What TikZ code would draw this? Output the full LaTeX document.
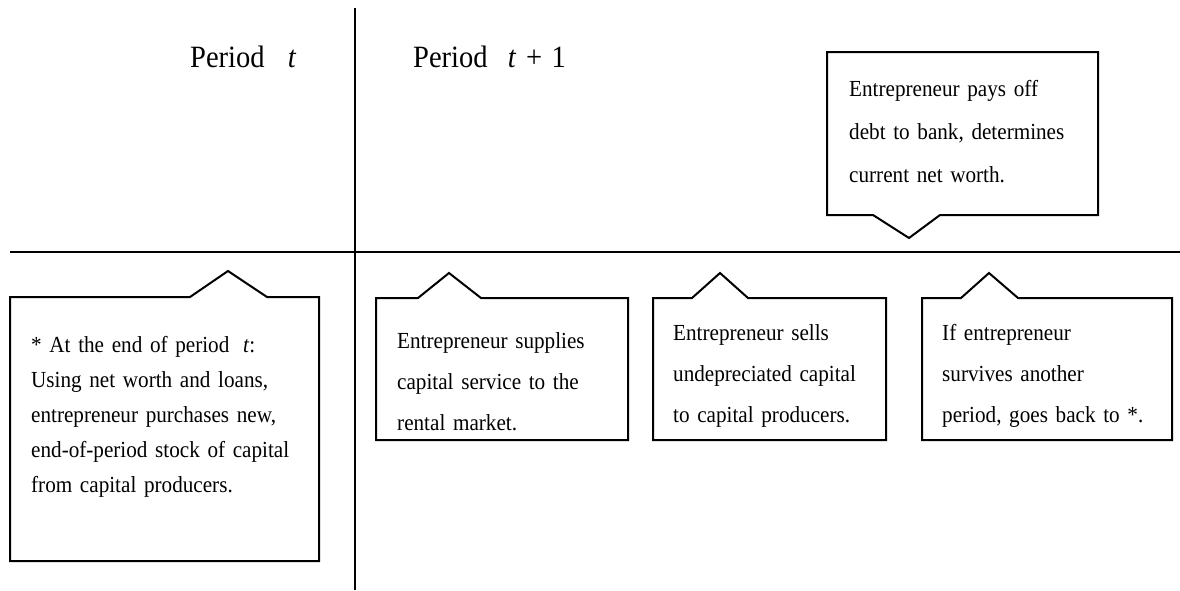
\documentclass[tikz,border=0pt]{standalone}
\usepackage{fontspec}
\setmainfont[FakeStretch=0.92]{Liberation Serif}
\begin{document}
\begin{tikzpicture}[x=1pt,y=-1pt]
\tikzset{
  outline/.style={draw=black, line width=2pt, line join=miter},
  axisline/.style={draw=black, line width=2.2pt},
  boxtext/.style={anchor=base west, inner sep=0pt, align=left, text width=#1},
  boxtext/.default=260pt,
  head/.style={anchor=base west, inner sep=0pt, font=\fontsize{31}{35}\selectfont},
}
\useasboundingbox (0,0) rectangle (1180,590);
% axes
\coordinate (vtop) at (355,8);
\coordinate (vbot) at (355,590);
\coordinate (hl) at (10,252);
\coordinate (hr) at (1180,252);
\draw[axisline] (vtop) -- (vbot);
\draw[axisline] (hl) -- (hr);
% headings
\node[head] (pt) at (190,67) {Period\hspace{0.75em}\textit{t}};
\node[head] (pt1) at (413,67) {Period\hspace{0.65em}\textit{t}\hspace{0.32em}+\hspace{0.3em}1};
% callout boxes
\draw[outline] (10,297) -- (190,297) -- (228,271) -- (267,297) -- (319,297) -- (319,561) -- (10,561) -- cycle;
\draw[outline] (376,298) -- (418,298) -- (449,273) -- (481,298) -- (628,298) -- (628,440) -- (376,440) -- cycle;
\draw[outline] (653,298) -- (692,298) -- (720,273) -- (748,298) -- (886,298) -- (886,440) -- (653,440) -- cycle;
\draw[outline] (922,298) -- (961,298) -- (989,273) -- (1018,298) -- (1172,298) -- (1172,440) -- (922,440) -- cycle;
\draw[outline] (827,52) -- (1098,52) -- (1098,215) -- (940,215) -- (909,238) -- (873,215) -- (827,215) -- cycle;
% texts
\node[boxtext=285pt, font=\fontsize{23}{35}\selectfont] (t1) at (31,352)
  {* At the end of period\hspace{0.6em}\textit{t}:\\
   Using net worth and loans,\\
   entrepreneur purchases new,\\
   end-of-period stock of capital\\
   from capital producers.};
\node[boxtext=230pt, font=\fontsize{23}{41}\selectfont] (t2) at (397,348)
  {Entrepreneur supplies\\capital service to the\\rental market.};
\node[boxtext=210pt, font=\fontsize{23}{41}\selectfont] (t3) at (673,340)
  {Entrepreneur sells\\undepreciated capital\\to capital producers.};
\node[boxtext=228pt, font=\fontsize{23}{41}\selectfont] (t4) at (942,340)
  {If entrepreneur\\survives another\\period, goes back to *.};
\node[boxtext=248pt, font=\fontsize{23}{43}\selectfont] (t5) at (849,96)
  {Entrepreneur pays off\\debt to bank, determines\\current net worth.};
\end{tikzpicture}
\end{document}
